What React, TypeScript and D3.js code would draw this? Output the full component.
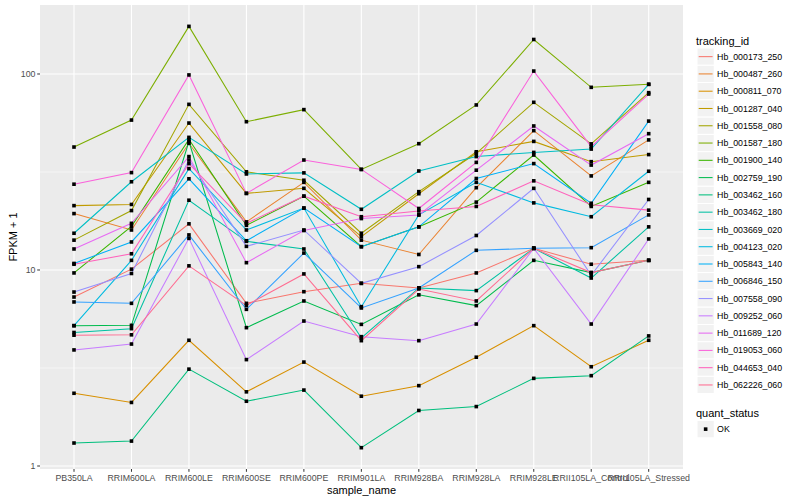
import { useMemo } from 'react';
import * as d3 from 'd3';

// sample names along the x axis
const sampleNames = [
	'PB350LA',
	'RRIM600LA',
	'RRIM600LE',
	'RRIM600SE',
	'RRIM600PE',
	'RRIM901LA',
	'RRIM928BA',
	'RRIM928LA',
	'RRIM928LE',
	'RRII105LA_Control',
	'RRII105LA_Stressed',
];

const trackingIds = [
	'Hb_000173_250',
	'Hb_000487_260',
	'Hb_000811_070',
	'Hb_001287_040',
	'Hb_001558_080',
	'Hb_001587_180',
	'Hb_001900_140',
	'Hb_002759_190',
	'Hb_003462_160',
	'Hb_003462_180',
	'Hb_003669_020',
	'Hb_004123_020',
	'Hb_005843_140',
	'Hb_006846_150',
	'Hb_007558_090',
	'Hb_009252_060',
	'Hb_011689_120',
	'Hb_019053_060',
	'Hb_044653_040',
	'Hb_062226_060',
];

// FPKM + 1 per sample, one array per tracking id (same order as trackingIds)
const hb000173_250 = [7.28, 10.1, 17.2, 6.76, 7.75, 8.55, 8.1, 9.66, 12.9, 10.7, 11.2];
const hb000487_260 = [19.4, 16.0, 44.3, 17.6, 28.0, 14.2, 12.0, 26.3, 51.4, 30.2, 46.1];
const hb000811_070 = [2.35, 2.11, 4.38, 2.39, 3.39, 2.27, 2.57, 3.59, 5.2, 3.21, 4.38];
const hb001287_040 = [21.3, 21.6, 56.2, 24.6, 26.1, 14.8, 24.5, 40.1, 45.3, 35.7, 38.8];
const hb001558_080 = [14.2, 20.1, 70.0, 31.7, 28.7, 15.4, 25.1, 39.4, 71.7, 44.0, 80.3];
const hb001587_180 = [42.4, 58.2, 175, 57.1, 65.8, 32.6, 44.1, 69.5, 150, 85.5, 88.6];
const hb001900_140 = [9.66, 16.7, 46.3, 16.9, 23.8, 13.15, 16.6, 22.2, 38.6, 21.1, 28.0];
const hb002759_190 = [5.2, 5.22, 45.2, 5.08, 6.95, 5.28, 7.47, 6.58, 11.2, 9.7, 11.2];
const hb003462_160 = [1.31, 1.34, 3.12, 2.14, 2.44, 1.24, 1.92, 2.01, 2.8, 2.89, 4.61];
const hb003462_180 = [4.8, 5.02, 22.7, 14.0, 12.8, 4.5, 8.1, 7.85, 12.9, 9.1, 16.6];
const hb003669_020 = [15.4, 28.2, 47.5, 30.9, 31.3, 20.4, 32.0, 37.9, 39.8, 41.4, 88.6];
const hb004123_020 = [5.2, 11.2, 32.9, 16.0, 20.7, 6.5, 19.1, 28.0, 22.0, 18.7, 31.9];
const hb005843_140 = [10.8, 13.9, 29.2, 14.1, 20.7, 13.15, 16.6, 29.3, 34.9, 21.9, 57.5];
const hb006846_150 = [6.87, 6.76, 15.1, 6.3, 12.2, 6.4, 8.1, 12.6, 12.9, 13.0, 19.1];
const hb007558_090 = [7.72, 9.6, 36.4, 13.2, 16.0, 8.55, 10.4, 15.0, 26.1, 9.4, 22.9];
const hb009252_060 = [3.91, 4.19, 14.5, 3.49, 5.49, 4.57, 4.36, 5.3, 12.9, 5.3, 14.4];
const hb011689_120 = [12.8, 17.3, 37.9, 10.9, 15.9, 18.3, 19.1, 32.3, 54.3, 34.3, 49.6];
const hb019053_060 = [27.4, 31.4, 98.9, 24.6, 36.4, 32.6, 20.6, 35.4, 103.5, 42.6, 79.0];
const hb044653_040 = [10.7, 12.1, 34.9, 17.3, 23.8, 18.7, 20.0, 21.1, 28.5, 21.5, 20.2];
const hb062226_060 = [4.65, 4.67, 10.5, 6.6, 9.55, 4.36, 8.0, 6.95, 12.9, 9.7, 11.2];

const seriesValues = [
	hb000173_250, hb000487_260, hb000811_070, hb001287_040, hb001558_080,
	hb001587_180, hb001900_140, hb002759_190, hb003462_160, hb003462_180,
	hb003669_020, hb004123_020, hb005843_140, hb006846_150, hb007558_090,
	hb009252_060, hb011689_120, hb019053_060, hb044653_040, hb062226_060,
];

// ggplot2 default hue palette for 20 levels
const huePalette = [
	'#F8766D', '#EA8331', '#D89000', '#C09B00', '#A3A500',
	'#7CAE00', '#39B600', '#00BB4E', '#00BF7D', '#00C1A3',
	'#00BFC4', '#00BAE0', '#00B0F6', '#35A2FF', '#9590FF',
	'#C77CFF', '#E76BF3', '#FA62DB', '#FF62BC', '#FF6C91',
];

const yBreaks = [1, 10, 100];
const yMinorBreaks = [Math.sqrt(10), Math.sqrt(1000)];

const FONT = '"Liberation Sans", Arial, Helvetica, sans-serif';

export default function App() {
	const width = 800;
	const height = 500;
	// panel box, matched to the ggplot layout
	const panel = { left: 40, right: 683, top: 5, bottom: 469 };

	const x = useMemo(
		() => d3.scalePoint<string>().domain(sampleNames).range([74, 648.7]),
		[]
	);
	const y = useMemo(
		() =>
			d3
				.scaleLog()
				.domain([Math.pow(10, -0.0153), Math.pow(10, 2.352)])
				.range([panel.bottom, panel.top]),
		[]
	);

	const line = d3
		.line<number>()
		.x((_, i) => x(sampleNames[i]) as number)
		.y((d) => y(d));

	const legendX = 697;
	const legendRow = 17.28;
	const legendTop = 48;
	const ptSize = 3.6;

	return (
		<svg
			width={width}
			height={height}
			style={{ position: 'absolute', left: 0, top: 0, background: '#fff' }}
			fontFamily={FONT}
		>
			{/* panel background and grid */}
			<rect
				x={panel.left}
				y={panel.top}
				width={panel.right - panel.left}
				height={panel.bottom - panel.top}
				fill="#EBEBEB"
			/>
			{yMinorBreaks.map((b) => (
				<line key={'ym' + b} x1={panel.left} x2={panel.right} y1={y(b)} y2={y(b)} stroke="#fff" strokeWidth={0.55} />
			))}
			{yBreaks.map((b) => (
				<line key={'y' + b} x1={panel.left} x2={panel.right} y1={y(b)} y2={y(b)} stroke="#fff" strokeWidth={1.1} />
			))}
			{sampleNames.map((s) => (
				<line key={'x' + s} x1={x(s)} x2={x(s)} y1={panel.top} y2={panel.bottom} stroke="#fff" strokeWidth={1.1} />
			))}

			{/* lines */}
			{seriesValues.map((vals, i) => (
				<path key={trackingIds[i]} d={line(vals) || ''} fill="none" stroke={huePalette[i]} strokeWidth={1.05} />
			))}
			{/* points */}
			{seriesValues.map((vals, i) =>
				vals.map((v, j) => (
					<rect
						key={trackingIds[i] + j}
						x={(x(sampleNames[j]) as number) - ptSize / 2}
						y={y(v) - ptSize / 2}
						width={ptSize}
						height={ptSize}
						fill="#000"
					/>
				))
			)}

			{/* y axis */}
			{yBreaks.map((b) => (
				<g key={'yt' + b}>
					<line x1={panel.left - 2.8} x2={panel.left} y1={y(b)} y2={y(b)} stroke="#333" strokeWidth={1} />
					<text x={panel.left - 4.5} y={y(b)} dy="0.35em" textAnchor="end" fontSize={8.8} fill="#4D4D4D">
						{b}
					</text>
				</g>
			))}
			<text
				transform={`translate(13,${(panel.top + panel.bottom) / 2}) rotate(-90)`}
				textAnchor="middle"
				dy="0.35em"
				fontSize={11}
				fill="#000"
			>
				FPKM + 1
			</text>

			{/* x axis */}
			{sampleNames.map((s) => (
				<g key={'xt' + s}>
					<line x1={x(s)} x2={x(s)} y1={panel.bottom} y2={panel.bottom + 2.8} stroke="#333" strokeWidth={1} />
					<text x={x(s)} y={panel.bottom + 11.5} textAnchor="middle" fontSize={8.8} fill="#4D4D4D">
						{s}
					</text>
				</g>
			))}
			<text x={(panel.left + panel.right) / 2} y={494} textAnchor="middle" fontSize={11} fill="#000">
				sample_name
			</text>

			{/* legend: tracking_id */}
			<text x={legendX - 1} y={45} fontSize={11} fill="#000">
				tracking_id
			</text>
			{trackingIds.map((id, i) => {
				const top = legendTop + i * legendRow;
				return (
					<g key={'lg' + id}>
						<rect x={legendX} y={top} width={legendRow} height={legendRow} fill="#F2F2F2" stroke="#fff" strokeWidth={1} />
						<line
							x1={legendX + 1.7}
							x2={legendX + legendRow - 1.7}
							y1={top + legendRow / 2}
							y2={top + legendRow / 2}
							stroke={huePalette[i]}
							strokeWidth={1.05}
						/>
						<text x={legendX + legendRow + 2.8} y={top + legendRow / 2} dy="0.35em" fontSize={8.8} fill="#000">
							{id}
						</text>
					</g>
				);
			})}

			{/* legend: quant_status */}
			<text x={legendX - 1} y={417} fontSize={11} fill="#000">
				quant_status
			</text>
			<rect x={legendX} y={420.5} width={legendRow} height={legendRow} fill="#F2F2F2" stroke="#fff" strokeWidth={1} />
			<rect
				x={legendX + legendRow / 2 - ptSize / 2}
				y={420.5 + legendRow / 2 - ptSize / 2}
				width={ptSize}
				height={ptSize}
				fill="#000"
			/>
			<text x={legendX + legendRow + 2.8} y={420.5 + legendRow / 2} dy="0.35em" fontSize={8.8} fill="#000">
				OK
			</text>
		</svg>
	);
}
